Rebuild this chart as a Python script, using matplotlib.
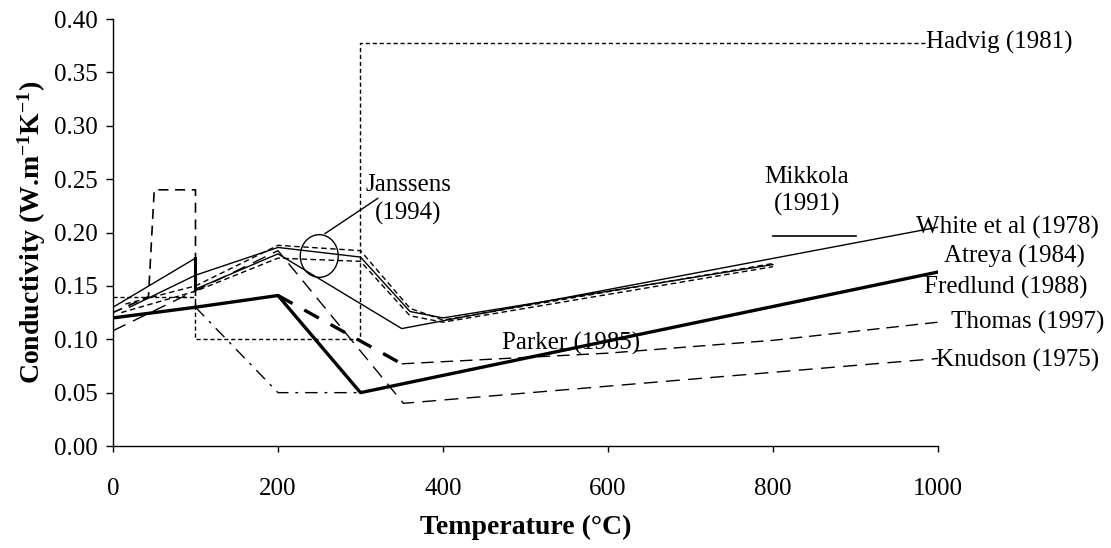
import matplotlib
matplotlib.use('Agg')
import matplotlib.pyplot as plt
from matplotlib.patches import Ellipse

plt.rcParams['font.family'] = ['Liberation Serif', 'DejaVu Serif']
plt.rcParams['mathtext.default'] = 'regular'

# ── data (temperature degC, conductivity W/m/K) ──
hadvig_x = [0, 100, 100, 300, 300, 985]
hadvig_y = [0.140, 0.140, 0.100, 0.100, 0.378, 0.378]

white_x = [0, 100, 100, 200, 350, 1000]
white_y = [0.130, 0.176, 0.147, 0.180, 0.110, 0.205]

mikkola_x = [20, 100, 200, 300, 360, 400, 800]
mikkola_y = [0.130, 0.160, 0.186, 0.177, 0.126, 0.120, 0.170]

janssens_x = [15, 100, 200, 300, 360, 400, 800]
janssens_y = [0.133, 0.150, 0.188, 0.183, 0.129, 0.118, 0.171]

atreya_x = [10, 100, 200, 300, 360, 400, 800]
atreya_y = [0.125, 0.145, 0.176, 0.173, 0.122, 0.116, 0.168]

fredlund_x = [0, 100, 200, 300, 1000]
fredlund_y = [0.120, 0.130, 0.141, 0.050, 0.163]

parker_x = [100, 200, 300]
parker_y = [0.130, 0.050, 0.050]

thomas_x = [0, 43, 50, 100, 100, 200, 350, 600, 800, 1000]
thomas_y = [0.125, 0.140, 0.240, 0.240, 0.130, 0.141, 0.077, 0.087, 0.099, 0.116]

knudson_x = [0, 200, 352, 1000]
knudson_y = [0.108, 0.183, 0.040, 0.082]

mikkola_key_x = [800, 900]
mikkola_key_y = [0.197, 0.197]

fig = plt.figure(figsize=(11.11, 5.48), dpi=100)
ax = fig.add_axes([0.1017, 0.1861, 0.7426, 0.7792])

K = 'black'
ax.plot(hadvig_x, hadvig_y, color=K, lw=1.0, ls=(0, (3, 2)))
ax.plot(white_x, white_y, color=K, lw=1.0)
ax.plot(white_x[1:3], white_y[1:3], color=K, lw=2.2)
ax.plot(mikkola_x, mikkola_y, color=K, lw=1.0)
ax.plot(janssens_x, janssens_y, color=K, lw=1.0, ls=(0, (4, 2.5)))
ax.plot(atreya_x, atreya_y, color=K, lw=1.0, ls=(0, (4, 2.5)))
ax.plot(fredlund_x, fredlund_y, color=K, lw=2.4)
ax.plot(parker_x, parker_y, color=K, lw=1.0, ls=(0, (9, 5, 2, 5)))
ax.plot(thomas_x[:6], thomas_y[:6], color=K, lw=1.2, ls=(0, (6, 4)))
ax.plot(thomas_x[5:7], thomas_y[5:7], color=K, lw=2.4, ls=(0, (5, 4)))
ax.plot(thomas_x[6:], thomas_y[6:], color=K, lw=1.0, ls=(0, (9, 5)))
ax.plot(knudson_x, knudson_y, color=K, lw=1.0, ls=(0, (10, 6)))
ax.plot(mikkola_key_x, mikkola_key_y, color=K, lw=1.2)

# Janssens callout
ax.add_patch(Ellipse((250, 0.178), 46, 0.040, fill=False, color=K, lw=1.0))
ax.plot([257, 321], [0.199, 0.232], color=K, lw=1.0)

fs = 18
ax.text(358, 0.231, 'Janssens\n(1994)', ha='center', va='center', fontsize=fs,
        linespacing=1.3)
ax.text(841, 0.239, 'Mikkola\n(1991)', ha='center', va='center', fontsize=fs,
        linespacing=1.3)
ax.text(472, 0.096, 'Parker (1985)', ha='left', va='center', fontsize=fs)

right_labels = [
    (985, 0.378, 'Hadvig (1981)'),
    (973, 0.205, 'White et al (1978)'),
    (1007, 0.178, 'Atreya (1984)'),
    (983, 0.149, 'Fredlund (1988)'),
    (1016, 0.116, 'Thomas (1997)'),
    (998, 0.080, 'Knudson (1975)'),
]
for x, y, s in right_labels:
    ax.text(x, y, s, ha='left', va='center', fontsize=fs, clip_on=False)

ax.set_xlim(0, 1000)
ax.set_ylim(0, 0.40)
ax.set_xticks(range(0, 1001, 200))
ax.set_yticks([i * 0.05 for i in range(9)])
ax.set_yticklabels(['%.2f' % (i * 0.05) for i in range(9)])
ax.tick_params(axis='y', direction='out', length=5, width=1, pad=6, labelsize=fs)
ax.tick_params(axis='x', direction='out', length=4, width=1, pad=19, labelsize=fs)

for s in ['top', 'right']:
    ax.spines[s].set_visible(False)
for s in ['left', 'bottom']:
    ax.spines[s].set_linewidth(1.0)

ax.set_xlabel('Temperature (°C)', fontsize=20, fontweight='bold', labelpad=11)
ax.set_ylabel('Conductivity (W.m$^{-1}$K$^{-1}$)', fontsize=20, fontweight='bold',
              labelpad=4)

fig.savefig('out.png', dpi=100)
